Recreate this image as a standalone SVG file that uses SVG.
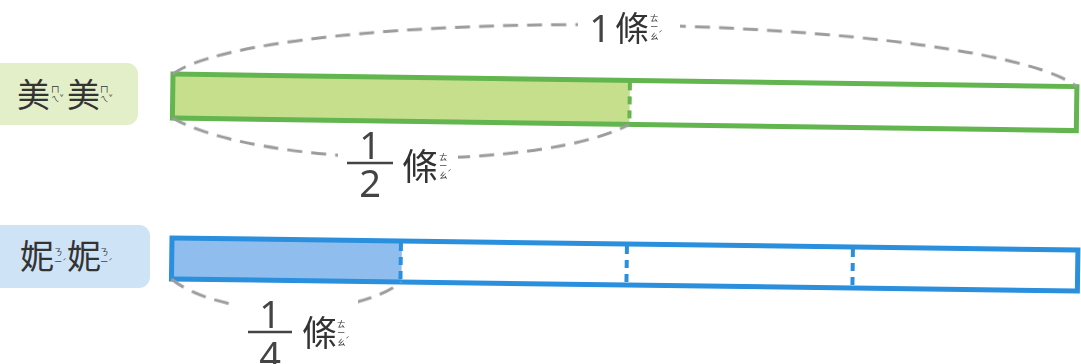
<svg xmlns="http://www.w3.org/2000/svg" width="1081" height="364" viewBox="0 0 1081 364">
  <style>
    .cjk { font-family: "Noto Sans CJK TC", "Noto Sans", sans-serif; fill: #333; }
    .num { font-family: "Noto Sans", "DejaVu Sans", sans-serif; fill: #444; }
    .bpmf { font-family: "Noto Sans CJK TC", sans-serif; font-size: 8.5px; fill: #333; }
    .tone { font-size: 7px; }
    .arc { fill: none; stroke: #9c9c9c; stroke-width: 3; stroke-dasharray: 15 9; }
    .gOut { fill: none; stroke: #62b54f; stroke-width: 5; }
    .gDiv { stroke: #62b54f; stroke-width: 4; stroke-dasharray: 8 6; }
    .bOut { fill: none; stroke: #2a8fdc; stroke-width: 5; }
    .bDiv { stroke: #2a8fdc; stroke-width: 4; stroke-dasharray: 8 6; }
    .frac { stroke: #444; stroke-width: 2.5; }
  </style>
  <defs>
    <mask id="textGaps" maskUnits="userSpaceOnUse" x="0" y="0" width="1081" height="364">
      <rect x="0" y="0" width="1081" height="364" fill="#fff"/>
      <rect x="578" y="2" width="102" height="50" fill="#000"/>
      <rect x="338" y="128" width="120" height="72" fill="#000"/>
      <rect x="234" y="292" width="124" height="72" fill="#000"/>
    </mask>
  </defs>
  <rect width="1081" height="364" fill="#fff"/>

  <g id="label-meimei">
    <rect x="-12" y="63" width="150" height="62" rx="11" fill="#e3efc9"/>
    <text class="cjk" x="17" y="107" font-size="33">美</text>
    <text class="bpmf"><tspan x="51" y="92">ㄇ</tspan><tspan x="51" y="102">ㄟ</tspan><tspan class="tone" x="59.5" y="100">ˇ</tspan></text>
    <text class="cjk" x="67" y="107" font-size="33">美</text>
    <text class="bpmf"><tspan x="100" y="92">ㄇ</tspan><tspan x="100" y="102">ㄟ</tspan><tspan class="tone" x="108.5" y="100">ˇ</tspan></text>
  </g>

  <g id="label-nini">
    <rect x="-12" y="225" width="162" height="63" rx="11" fill="#cfe3f6"/>
    <text class="cjk" x="20" y="269" font-size="34">妮</text>
    <text class="bpmf"><tspan x="54" y="255">ㄋ</tspan><tspan x="54" y="265">ㄧ</tspan><tspan class="tone" x="62.5" y="264">ˊ</tspan></text>
    <text class="cjk" x="67" y="269" font-size="34">妮</text>
    <text class="bpmf"><tspan x="100" y="255">ㄋ</tspan><tspan x="100" y="265">ㄧ</tspan><tspan class="tone" x="108.5" y="264">ˊ</tspan></text>
  </g>

  <g id="bar-meimei" transform="rotate(0.8 173 74)">
    <rect x="173" y="74" width="457" height="44" fill="#c6df8c"/>
    <rect class="gOut" x="173" y="74" width="904" height="44"/>
    <line class="gDiv" x1="630" y1="76" x2="630" y2="118"/>
  </g>

  <g id="bar-nini" transform="rotate(0.76 172 238)">
    <rect x="172" y="238" width="230" height="41" fill="#8fbdee"/>
    <rect class="bOut" x="172" y="238" width="906" height="41"/>
    <line class="bDiv" x1="401" y1="240" x2="401" y2="279"/>
    <line class="bDiv" x1="627" y1="240" x2="627" y2="279"/>
    <line class="bDiv" x1="853" y1="240" x2="853" y2="279"/>
  </g>

  <g id="connectors" mask="url(#textGaps)">
    <g transform="rotate(0.8 173 74)">
      <path class="arc" d="M173,74 A460,68 0 0 1 1077,74"/>
      <path class="arc" d="M173,118 A250,62 0 0 0 630,118"/>
    </g>
    <g transform="rotate(0.76 172 238)">
      <path class="arc" d="M172,279 A130,55 0 0 0 402,279"/>
    </g>
  </g>

  <g id="label-whole">
    <text class="num" x="600" y="42" font-size="38" text-anchor="middle">1</text>
    <text class="cjk" x="615" y="41" font-size="34">條</text>
    <text class="bpmf"><tspan x="650" y="21">ㄊ</tspan><tspan x="650" y="30">ㄧ</tspan><tspan x="650" y="39">ㄠ</tspan><tspan class="tone" x="658.5" y="36">ˊ</tspan></text>
  </g>

  <g id="label-half">
    <text class="num" font-size="38" text-anchor="middle"><tspan x="370" y="159">1</tspan><tspan x="370" y="197">2</tspan></text>
    <line class="frac" x1="347" y1="163" x2="393" y2="163"/>
    <text class="cjk" x="402" y="180" font-size="36">條</text>
    <text class="bpmf"><tspan x="439" y="160">ㄊ</tspan><tspan x="439" y="169">ㄧ</tspan><tspan x="439" y="178">ㄠ</tspan><tspan class="tone" x="447.5" y="175">ˊ</tspan></text>
  </g>

  <g id="label-quarter">
    <text class="num" font-size="38" text-anchor="middle"><tspan x="270" y="328">1</tspan><tspan x="270" y="369">4</tspan></text>
    <line class="frac" x1="248" y1="332" x2="292" y2="332"/>
    <text class="cjk" x="302" y="346" font-size="35">條</text>
    <text class="bpmf"><tspan x="337" y="327">ㄊ</tspan><tspan x="337" y="336">ㄧ</tspan><tspan x="337" y="345">ㄠ</tspan><tspan class="tone" x="345.5" y="342">ˊ</tspan></text>
  </g>
</svg>
